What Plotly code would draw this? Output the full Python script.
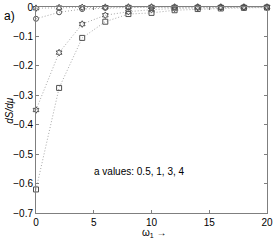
import plotly.graph_objects as go

x_vals = [0, 2, 4, 6, 8, 10, 12, 14, 16, 18, 20]
s_a05 = [-0.004, -0.002, -0.001, -0.0005, 0, 0, 0, 0, 0, 0, 0]
s_a1 = [-0.04, -0.018, -0.007, -0.003, -0.0015, -0.001, -0.0005, 0, 0, 0, 0]
s_a3 = [-0.35, -0.155, -0.058, -0.028, -0.016, -0.009, -0.005, -0.003, -0.002, -0.001, -0.001]
s_a4 = [-0.62, -0.275, -0.105, -0.05, -0.024, -0.02, -0.011, -0.007, -0.005, -0.003, -0.002]
y_ticks = [0, -0.1, -0.2, -0.3, -0.4, -0.5, -0.6, -0.7]
y_ticktext = ["0", "−0.1", "−0.2", "−0.3", "−0.4", "−0.5", "−0.6", "−0.7"]
x_ticks = [0, 5, 10, 15, 20]

series = [
    (s_a05, "hexagram-open"),
    (s_a1, "circle-open"),
    (s_a3, "hexagram-open"),
    (s_a4, "square-open"),
]

fig = go.Figure()
for ys, sym in series:
    fig.add_trace(go.Scatter(
        x=x_vals, y=ys, mode="lines+markers",
        line=dict(color="#a8a8a8", width=1, dash="1px,2px"),
        marker=dict(symbol=sym, size=5, color="#505050", line=dict(width=1, color="#505050")),
        showlegend=False, cliponaxis=False,
    ))

fig.add_annotation(x=4.85, y=-0.56, text="a values: 0.5, 1, 3, 4", showarrow=False,
                   xanchor="left", yanchor="middle", font=dict(size=10, color="black"))
fig.add_annotation(xref="paper", yref="paper", x=-0.115, y=0.955, text="a)", showarrow=False,
                   xanchor="center", yanchor="middle", font=dict(size=12, color="black"))
fig.add_annotation(xref="paper", yref="paper", x=-0.118, y=0.5, text="<i>dS/dμ</i>",
                   textangle=-90, showarrow=False, xanchor="center", yanchor="middle",
                   font=dict(size=10, color="black"))
fig.add_annotation(xref="paper", yref="paper", x=0.515, y=-0.06, text="ω<sub>1</sub> →",
                   showarrow=False, xanchor="center", yanchor="top",
                   font=dict(size=10, color="black"))

fig.update_layout(
    width=274, height=242,
    margin=dict(l=36, r=7, t=7, b=29),
    paper_bgcolor="white", plot_bgcolor="white",
    font=dict(family="Liberation Sans, Arial, sans-serif", size=10, color="black"),
    xaxis=dict(range=[0, 20], tickvals=x_ticks, ticks="inside", ticklen=3,
               showgrid=False, zeroline=False, showline=True, linecolor="#7f7f7f",
               linewidth=1, mirror="ticks", tickcolor="#7f7f7f", automargin=False),
    yaxis=dict(range=[-0.7, 0], tickvals=y_ticks, ticktext=y_ticktext, ticks="inside",
               ticklen=3, showgrid=False, zeroline=False, showline=True, linecolor="#7f7f7f",
               linewidth=1, mirror="ticks", tickcolor="#7f7f7f", automargin=False),
)

fig.write_html("out.html", config={"displayModeBar": False},
               post_script="document.body.style.margin='0';document.body.style.padding='0';")
